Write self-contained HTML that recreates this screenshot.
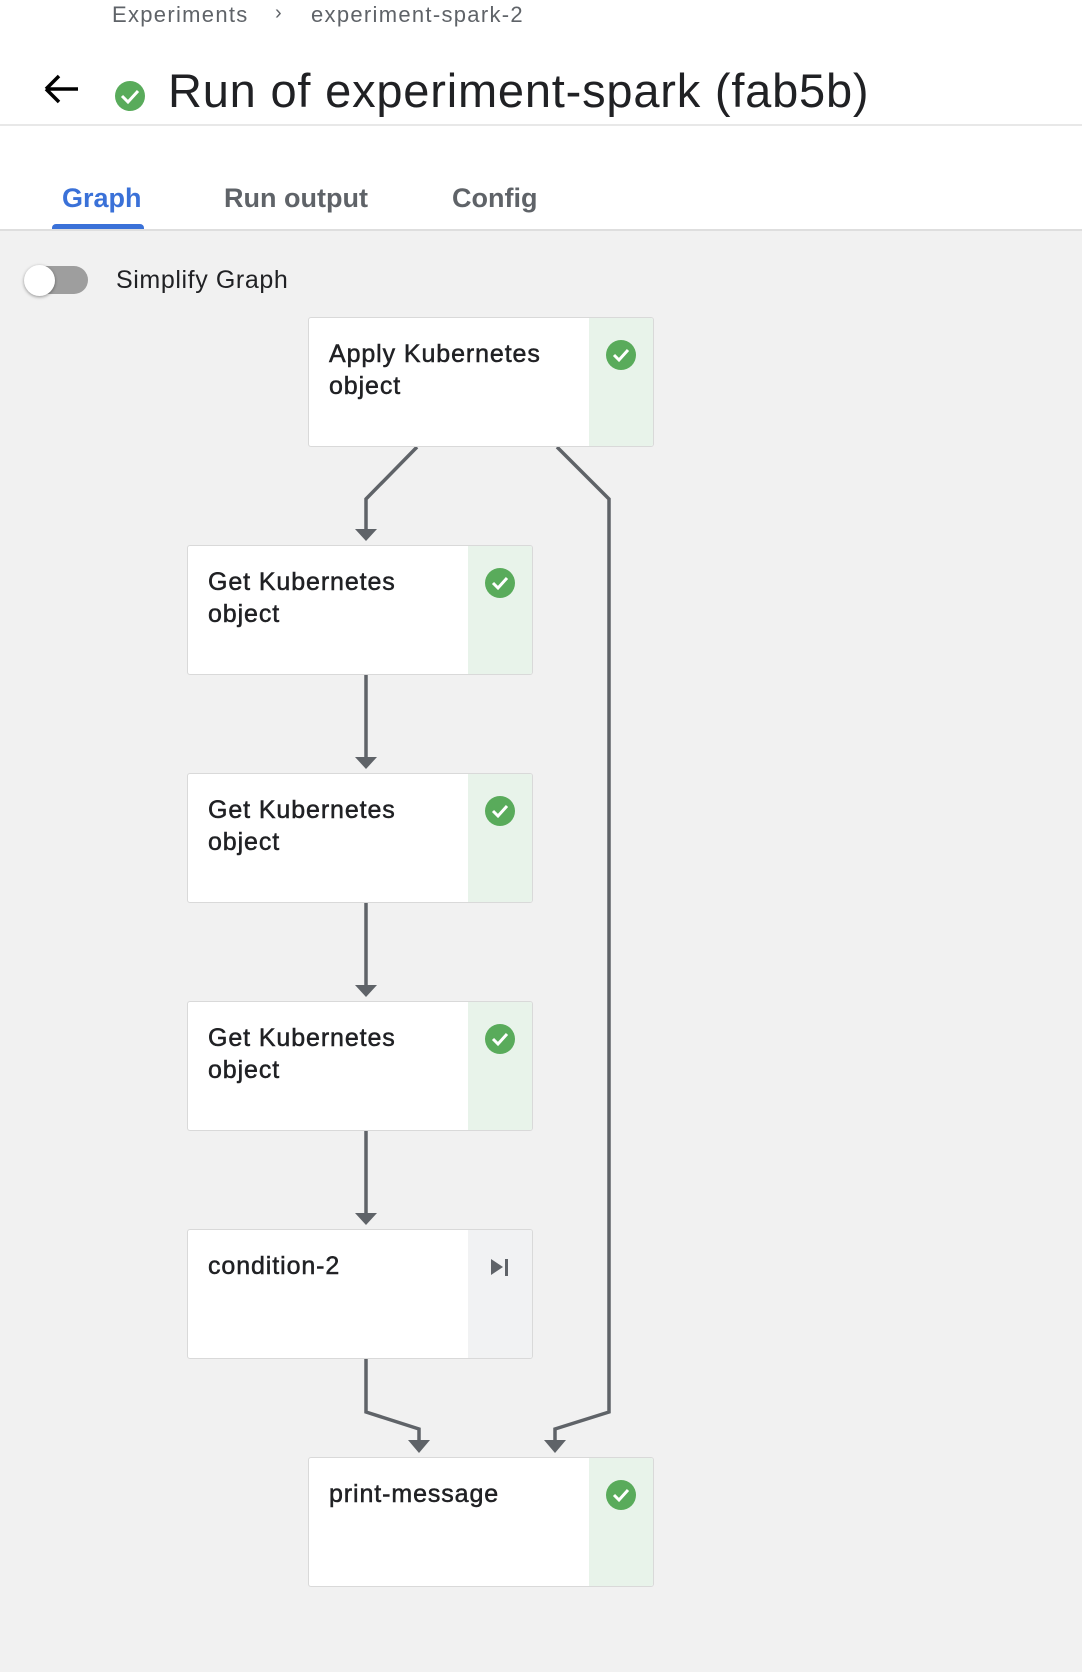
<!DOCTYPE html>
<html><head><style>
body{margin:0;width:1082px;height:1672px;background:#f1f1f1;font-family:"Liberation Sans",sans-serif;position:relative;overflow:hidden}
.hdr{position:absolute;left:0;top:0;width:1082px;height:230px;background:#fff}
.t{position:absolute;white-space:nowrap}
.node{position:absolute;width:344px;height:128px;background:#fff;border:1px solid #d9d9d9;border-radius:3px;overflow:hidden}
.node .strip{position:absolute;right:0;top:0;width:64px;height:100%;background:#e8f3ea}
.node .lbl{position:absolute;left:20px;top:20px;font-size:25px;line-height:32px;color:#202124;letter-spacing:0.9px;-webkit-text-stroke:0.5px #202124}
.node .ic{position:absolute;right:17px;top:22px;width:30px;height:30px;border-radius:50%;background:#59ab5b}
</style></head><body>
<div class="hdr">
<div class="t" style="left:112px;top:2px;font-size:22px;color:#5f6368;letter-spacing:1.3px">Experiments</div>
<div class="t" style="left:275px;top:2px;font-size:20px;color:#5f6368">›</div>
<div class="t" style="left:311px;top:2px;font-size:22px;color:#5f6368;letter-spacing:1.3px">experiment-spark-2</div>
<svg style="position:absolute;left:40px;top:70px" width="40" height="40"><path d="M6 19 H38 M6 19 L19 6 M6 19 L19 32" stroke="#000" stroke-width="3.5" fill="none"/></svg>
<svg style="position:absolute;left:114px;top:80px" width="32" height="32"><circle cx="16" cy="16" r="15" fill="#59ab5b"/><path d="M8 16 L14 22 L24 11" stroke="#fff" stroke-width="3" fill="none"/></svg>
<div class="t" style="left:168px;top:63px;font-size:47px;color:#202124;letter-spacing:0.8px">Run of experiment-spark (fab5b)</div>
<div style="position:absolute;left:0;top:124px;width:1082px;height:2px;background:#e8e8e8"></div>
<div class="t" style="left:62px;top:183px;font-size:27px;font-weight:bold;color:#3a71d8">Graph</div>
<div class="t" style="left:224px;top:183px;font-size:27px;font-weight:bold;color:#5f6368">Run output</div>
<div class="t" style="left:452px;top:183px;font-size:27px;font-weight:bold;color:#5f6368">Config</div>
<div style="position:absolute;left:52px;top:224px;width:92px;height:6px;background:#3a71d8;border-radius:4px 4px 0 0"></div>
</div>
<div style="position:absolute;left:0;top:229px;width:1082px;height:2px;background:#dedede"></div>
<div style="position:absolute;left:30px;top:266px;width:58px;height:28px;border-radius:14px;background:#9e9e9e"></div>
<div style="position:absolute;left:24px;top:265px;width:31px;height:31px;border-radius:50%;background:#fff;box-shadow:0 1px 3px rgba(0,0,0,.4)"></div>
<div class="t" style="left:116px;top:266px;font-size:25px;color:#202124;letter-spacing:0.6px">Simplify Graph</div>
<svg style="position:absolute;left:0;top:0" width="1082" height="1672">
<g stroke="#5f6368" stroke-width="3.5" fill="none">
<path d="M417 447 L366 499 L366 530"/>
<path d="M557 447 L609 499 L609 1412 L555 1429 L555 1442"/>
<path d="M366 675 L366 758"/><path d="M366 903 L366 986"/><path d="M366 1131 L366 1214"/>
<path d="M366 1358 L366 1412 L419 1429 L419 1442"/>
</g>
<g fill="#5f6368">
<path d="M355 529 L377 529 L366 541Z"/><path d="M355 757 L377 757 L366 769Z"/><path d="M355 985 L377 985 L366 997Z"/><path d="M355 1213 L377 1213 L366 1225Z"/>
<path d="M408 1440 L430 1440 L419 1453Z"/><path d="M544 1440 L566 1440 L555 1453Z"/>
</g></svg>
<div class="node" style="left:308px;top:317px"><div class="strip"></div><div class="lbl">Apply Kubernetes<br>object</div><svg class="ic" viewBox="0 0 30 30"><path d="M8 15 L13 20 L22 10" stroke="#fff" stroke-width="3" fill="none"/></svg></div>
<div class="node" style="left:187px;top:545px"><div class="strip"></div><div class="lbl">Get Kubernetes<br>object</div><svg class="ic" viewBox="0 0 30 30"><path d="M8 15 L13 20 L22 10" stroke="#fff" stroke-width="3" fill="none"/></svg></div>
<div class="node" style="left:187px;top:773px"><div class="strip"></div><div class="lbl">Get Kubernetes<br>object</div><svg class="ic" viewBox="0 0 30 30"><path d="M8 15 L13 20 L22 10" stroke="#fff" stroke-width="3" fill="none"/></svg></div>
<div class="node" style="left:187px;top:1001px"><div class="strip"></div><div class="lbl">Get Kubernetes<br>object</div><svg class="ic" viewBox="0 0 30 30"><path d="M8 15 L13 20 L22 10" stroke="#fff" stroke-width="3" fill="none"/></svg></div>
<div class="node" style="left:187px;top:1229px"><div class="strip" style="background:#f1f2f3"></div><div class="lbl">condition-2</div><svg style="position:absolute;right:22px;top:28px" width="20" height="20"><path d="M1 1 L13 9 L1 17Z" fill="#5f6368"/><rect x="15" y="1" width="3" height="17" fill="#5f6368"/></svg></div>
<div class="node" style="left:308px;top:1457px"><div class="strip"></div><div class="lbl">print-message</div><svg class="ic" viewBox="0 0 30 30"><path d="M8 15 L13 20 L22 10" stroke="#fff" stroke-width="3" fill="none"/></svg></div>
</body></html>
